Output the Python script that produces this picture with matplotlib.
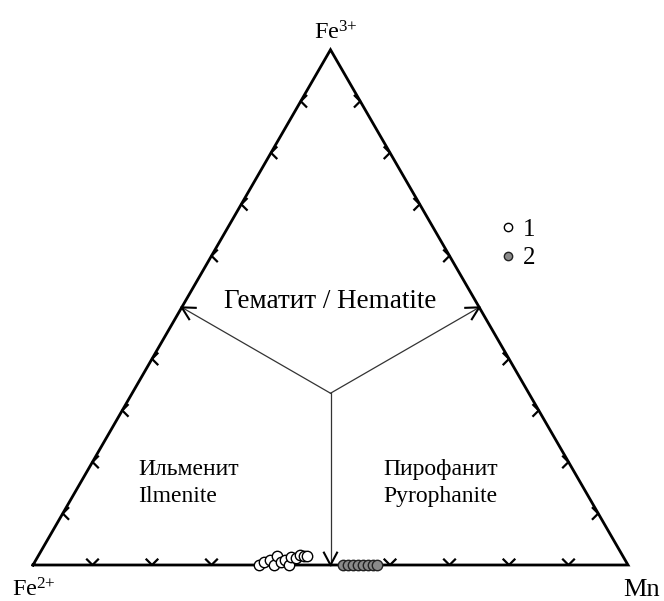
import numpy as np
import matplotlib
matplotlib.use('Agg')
import matplotlib.pyplot as plt
from matplotlib.lines import Line2D

plt.rcParams['font.family'] = ['Liberation Serif', 'DejaVu Serif']
plt.rcParams['mathtext.fontset'] = 'custom'
plt.rcParams['mathtext.rm'] = 'Liberation Serif'
plt.rcParams['mathtext.it'] = 'Liberation Serif:italic'

# ---------------- data ----------------
vertex_labels = ['Fe$^{2{+}}$', 'Mn', 'Fe$^{3{+}}$']
field_hematite = 'Гематит / Hematite'
field_ilmenite = ['Ильменит', 'Ilmenite']
field_pyrophanite = ['Пирофанит', 'Pyrophanite']
series_labels = ['1', '2']

# series 1 (open circles): fractions Fe2+, Mn, Fe3+
s1_fe2 = [0.620, 0.609, 0.597, 0.595, 0.581, 0.580, 0.572, 0.570, 0.559, 0.551, 0.542, 0.536, 0.531]
s1_mn  = [0.380, 0.385, 0.393, 0.405, 0.401, 0.414, 0.419, 0.430, 0.426, 0.435, 0.439, 0.447, 0.452]
s1_fe3 = [0.000, 0.006, 0.010, 0.000, 0.018, 0.006, 0.010, 0.000, 0.015, 0.014, 0.019, 0.017, 0.017]

# series 2 (grey circles)
s2_fe2 = [0.479, 0.471, 0.462, 0.454, 0.445, 0.437, 0.429, 0.422]
s2_mn  = [0.521, 0.529, 0.538, 0.546, 0.555, 0.563, 0.571, 0.578]
s2_fe3 = [0.000, 0.000, 0.000, 0.000, 0.000, 0.000, 0.000, 0.000]

# field boundaries: centroid -> edge midpoints (Fe2+, Mn, Fe3+)
bnd_center = (1/3, 1/3, 1/3)
bnd_ends = [(0.5, 0.0, 0.5), (0.0, 0.5, 0.5), (0.5, 0.5, 0.0)]

tick_fracs = [0.1, 0.2, 0.3, 0.4, 0.6, 0.7, 0.8, 0.9]

# ---------------- helpers ----------------
H = np.sqrt(3) / 2


def tern(fe2, mn, fe3):
    fe2 = np.asarray(fe2, float); mn = np.asarray(mn, float); fe3 = np.asarray(fe3, float)
    tot = fe2 + mn + fe3
    return (mn + fe3 / 2) / tot, fe3 * H / tot


PX = 595.0  # pixels per unit side
fig = plt.figure(figsize=(6.64, 6.01), dpi=100)
ax = fig.add_axes([0, 0, 1, 1])
ax.set_xlim(-33 / PX, (664 - 33) / PX)
ax.set_ylim((565 - 601) / PX, 565 / PX)
ax.axis('off')

# triangle
vx, vy = tern([1, 0, 0, 1], [0, 1, 0, 0], [0, 0, 1, 0])
ax.plot(vx, vy, color='black', lw=2.0, solid_joinstyle='miter', zorder=3)

# ticks (small chevrons with tip on the edge)
a = 5.5 / PX
for t in tick_fracs:
    # bottom edge
    x, y = tern(1 - t, t, 0)
    ax.plot([x - a, x, x + a], [y + a, y, y + a], color='black', lw=1.6, zorder=3)
    # left edge
    x, y = tern(1 - t, 0, t)
    ax.plot([x + a, x, x + a], [y + a, y, y - a], color='black', lw=1.6, zorder=3)
    # right edge
    x, y = tern(0, 1 - t, t)
    ax.plot([x - a, x, x - a], [y + a, y, y - a], color='black', lw=1.6, zorder=3)

# boundaries with arrowheads
cx, cy = tern(*bnd_center)
for e in bnd_ends:
    ex, ey = tern(*e)
    ax.plot([cx, ex], [cy, ey], color='#333333', lw=0.9, zorder=2)
    d = np.array([cx - ex, cy - ey]); d /= np.hypot(*d)
    L = 14 / PX
    for ang in (np.radians(28), -np.radians(28)):
        r = np.array([d[0] * np.cos(ang) - d[1] * np.sin(ang), d[0] * np.sin(ang) + d[1] * np.cos(ang)])
        ax.plot([ex, ex + L * r[0]], [ey, ey + L * r[1]], color='black', lw=1.5, zorder=3)

# points
x1, y1 = tern(s1_fe2, s1_mn, s1_fe3)
x2, y2 = tern(s2_fe2, s2_mn, s2_fe3)
ax.plot(x1, y1, 'o', ms=7.5, mfc='white', mec='black', mew=1.0, ls='none', zorder=5)
ax.plot(x2, y2, 'o', ms=7.5, mfc='#8a8a8a', mec='#222222', mew=1.0, ls='none', zorder=5)

FS = 17
# vertex labels
for lab, comp, off, fs in zip(vertex_labels,
                              [(1, 0, 0), (0, 1, 0), (0, 0, 1)],
                              [(-15, -22.5), (-3.6, -22.5), (-12.2, 7.2)],
                              [17.5, 19, 17.5]):
    x, y = tern(*comp)
    ax.annotate(lab, (x, y), xytext=off, textcoords='offset points',
                ha='left', va='baseline', fontsize=fs)

# field labels
ax.text((330 - 33) / PX, (565 - 308) / PX, field_hematite, ha='center', va='baseline', fontsize=19.5)
for i, s in enumerate(field_ilmenite):
    ax.text((138 - 33) / PX, (565 - 475 - 27 * i) / PX, s, ha='left', va='baseline', fontsize=FS)
for i, s in enumerate(field_pyrophanite):
    ax.text((383 - 33) / PX, (565 - 475 - 27 * i) / PX, s, ha='left', va='baseline', fontsize=FS)

# legend
handles = [Line2D([], [], marker='o', ls='none', ms=6, mfc='white', mec='black', mew=1.0),
           Line2D([], [], marker='o', ls='none', ms=6, mfc='#8a8a8a', mec='#222222', mew=1.0)]
ax.legend(handles, series_labels, loc='upper left', bbox_to_anchor=(500 / 664, 1 - 218 / 601),
          frameon=False, fontsize=18, handlelength=0.6, handletextpad=0.3,
          labelspacing=0.25, borderpad=0, borderaxespad=0)

fig.savefig('out.png', dpi=100)
